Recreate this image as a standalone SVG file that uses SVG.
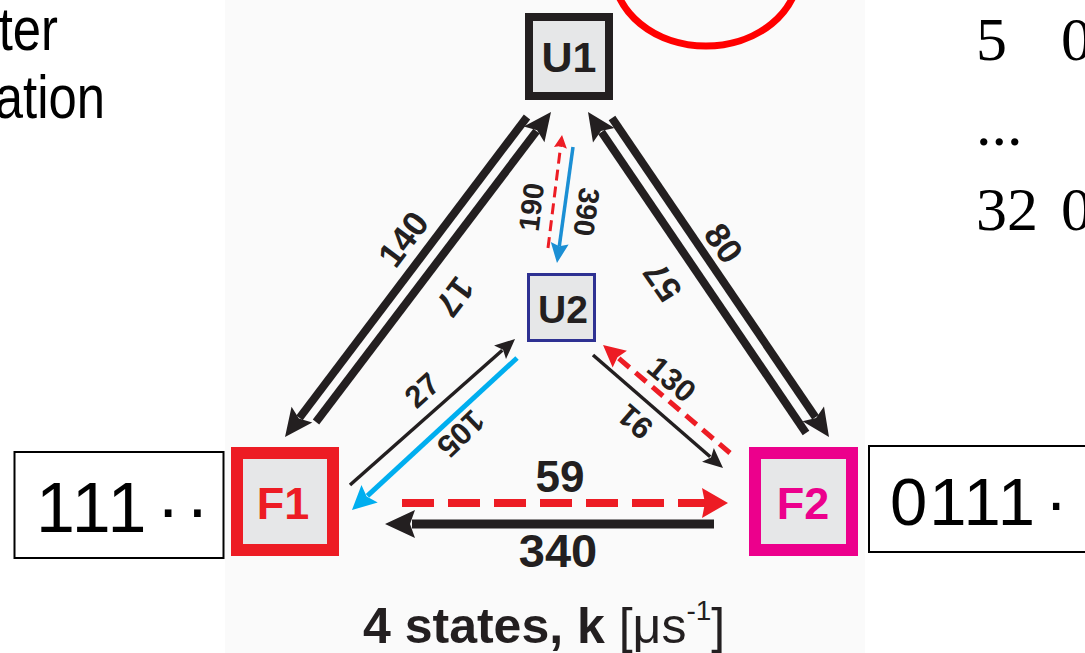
<svg xmlns="http://www.w3.org/2000/svg" width="1085" height="653" viewBox="0 0 1085 653">
<style>
.node{fill:#e6e7e8}
.nt{font-family:"Liberation Sans",Arial,sans-serif;font-weight:bold;text-anchor:middle}
.lbl{font-family:"Liberation Sans",Arial,sans-serif;font-weight:bold;text-anchor:middle;fill:#231f20}
.blk{stroke:#231f20;fill:none}
.red{stroke:#ed1c24;fill:none}
.sans{font-family:"Liberation Sans",Arial,sans-serif;fill:#000}
.serif{font-family:"Liberation Serif","Times New Roman",serif;fill:#000;font-size:62px}
</style>
<defs>
<marker id="mBig" markerUnits="userSpaceOnUse" markerWidth="28" markerHeight="26" refX="4" refY="13" orient="auto" overflow="visible"><path d="M0,0 L28,13 L0,26 L5,13 Z" fill="#231f20"/></marker>
<marker id="mMed" markerUnits="userSpaceOnUse" markerWidth="20" markerHeight="18" refX="3" refY="9" orient="auto" overflow="visible"><path d="M0,0 L20,9 L0,18 L4,9 Z" fill="#231f20"/></marker>
<marker id="mHor" markerUnits="userSpaceOnUse" markerWidth="30" markerHeight="28" refX="3" refY="14" orient="auto" overflow="visible"><path d="M0,0 L30,14 L0,28 L5,14 Z" fill="#231f20"/></marker>
<marker id="mRedBig" markerUnits="userSpaceOnUse" markerWidth="26" markerHeight="30" refX="3" refY="15" orient="auto" overflow="visible"><path d="M0,0 L26,15 L0,30 L3,15 Z" fill="#ed1c24"/></marker>
<marker id="mRedMed" markerUnits="userSpaceOnUse" markerWidth="22" markerHeight="22" refX="3" refY="11" orient="auto" overflow="visible"><path d="M0,0 L22,11 L0,22 L3,11 Z" fill="#ed1c24"/></marker>
<marker id="mRedSm" markerUnits="userSpaceOnUse" markerWidth="13" markerHeight="13" refX="3" refY="6.5" orient="auto" overflow="visible"><path d="M0,0 L13,6.5 L0,13 L2,6.5 Z" fill="#ed1c24"/></marker>
<marker id="mBlueMed" markerUnits="userSpaceOnUse" markerWidth="24" markerHeight="24" refX="3" refY="12" orient="auto" overflow="visible"><path d="M0,0 L24,12 L0,24 L4,12 Z" fill="#00aeef"/></marker>
<marker id="mBlueSm" markerUnits="userSpaceOnUse" markerWidth="20" markerHeight="18" refX="3" refY="9" orient="auto" overflow="visible"><path d="M0,0 L20,9 L0,18 L3,9 Z" fill="#1b8fd4"/></marker>
</defs>
<rect x="0" y="0" width="1085" height="653" fill="#ffffff"/>
<rect x="225" y="0" width="640" height="653" fill="#fafafa"/>

<!-- clipped side texts -->
<text class="sans" font-size="62" text-anchor="end" transform="translate(58,50) scale(0.82,1)">ter</text>
<text class="sans" font-size="62" text-anchor="end" transform="translate(105,118) scale(0.82,1)">ation</text>

<text class="serif" x="976" y="60">5</text>
<text class="serif" x="1061" y="60">0</text>
<text class="serif" x="976" y="145">...</text>
<text class="serif" x="976" y="230">32</text>
<text class="serif" x="1061" y="230">0</text>

<ellipse cx="706" cy="-30" rx="93" ry="76" fill="none" stroke="#ff0000" stroke-width="7"/>

<!-- connectors -->
<g id="connectors">
  <path class="blk" stroke-width="8" d="M527,117 L299.5,417.8" marker-end="url(#mBig)"/>
  <path class="blk" stroke-width="8" d="M316,422 L536.5,131.1" marker-end="url(#mBig)"/>
  <path class="blk" stroke-width="8" d="M612,118 L815.5,417.2" marker-end="url(#mBig)"/>
  <path class="blk" stroke-width="8" d="M806,433 L601.5,131.9" marker-end="url(#mBig)"/>
  <path class="blk" stroke-width="3.5" d="M350,485 L502.3,350.3" marker-end="url(#mMed)"/>
  <path stroke="#00aeef" fill="none" stroke-width="5" d="M517,358 L367.4,495.8" marker-end="url(#mBlueMed)"/>
  <path class="blk" stroke-width="3.5" d="M593,355 L710.2,456.8" marker-end="url(#mMed)"/>
  <path class="red" stroke-width="5" stroke-dasharray="14 8" d="M730,453 L617.5,357.3" marker-end="url(#mRedMed)"/>
  <path class="red" stroke-width="3" stroke-dasharray="11 6" d="M548,248 L560.8,144.9" marker-end="url(#mRedSm)"/>
  <path stroke="#1b8fd4" fill="none" stroke-width="3.5" d="M573,147 L559.3,246.2" marker-end="url(#mBlueSm)"/>
  <path class="red" stroke-width="8" stroke-dasharray="32 14" d="M402,503 L705,503" marker-end="url(#mRedBig)"/>
  <path class="blk" stroke-width="9" d="M714,524 L412,524" marker-end="url(#mHor)"/>

  <text class="lbl" font-size="35" transform="translate(403,239) rotate(-53)" y="12.5">140</text>
  <text class="lbl" font-size="35" transform="translate(455,297) rotate(127)" y="12.5">17</text>
  <text class="lbl" font-size="35" transform="translate(724,243) rotate(55)" y="12.5">80</text>
  <text class="lbl" font-size="35" transform="translate(662,282) rotate(-125)" y="12.5">57</text>
  <text class="lbl" font-size="31" transform="translate(422,390) rotate(-42)" y="11">27</text>
  <text class="lbl" font-size="31" transform="translate(461,434) rotate(136)" y="11">105</text>
  <text class="lbl" font-size="29" transform="translate(531,207) rotate(-83)" y="10.4">190</text>
  <text class="lbl" font-size="29" transform="translate(587,212) rotate(98)" y="10.4">390</text>
  <text class="lbl" font-size="31" transform="translate(672,379) rotate(40)" y="11">130</text>
  <text class="lbl" font-size="31" transform="translate(635,422) rotate(-139)" y="11">91</text>
  <text class="lbl" font-size="44" x="560" y="492">59</text>
  <text class="lbl" font-size="47" x="558" y="567">340</text>
</g>

<!-- nodes -->
<g id="U1">
  <rect class="node" x="529" y="17" width="80" height="79" stroke="#231f20" stroke-width="8"/>
  <text class="nt" x="569" y="72" font-size="43" fill="#231f20">U1</text>
</g>
<g id="U2">
  <rect class="node" x="528.5" y="274.5" width="66" height="66" stroke="#2e3192" stroke-width="3"/>
  <text class="nt" x="563" y="323" font-size="39" fill="#231f20">U2</text>
</g>
<g id="F1">
  <rect class="node" x="237" y="453" width="96" height="97" stroke="#ed1c24" stroke-width="12"/>
  <text class="nt" x="283" y="519" font-size="45" fill="#ed1c24">F1</text>
</g>
<g id="F2">
  <rect class="node" x="755" y="453" width="97" height="97" stroke="#ec008c" stroke-width="12"/>
  <text class="nt" x="803" y="519" font-size="45" fill="#ec008c">F2</text>
</g>
<g id="box111">
  <rect x="14.5" y="452" width="209" height="106" fill="#ffffff" stroke="#000" stroke-width="2"/>
  <text class="sans" x="36" y="532" font-size="70" letter-spacing="2">111<tspan dx="8" letter-spacing="6">··</tspan></text>
</g>
<g id="box0111">
  <rect x="869" y="446" width="240" height="106" fill="#ffffff" stroke="#000" stroke-width="2"/>
  <text class="sans" x="890" y="525" font-size="67" letter-spacing="2">0111<tspan dx="8">·</tspan></text>
</g>

<text x="363" y="643" font-family="Liberation Sans, Arial, sans-serif" font-size="50" fill="#231f20"><tspan font-weight="bold">4 states, k </tspan><tspan>[μs</tspan><tspan font-size="28" dy="-23">-1</tspan><tspan dy="23">]</tspan></text>
</svg>
